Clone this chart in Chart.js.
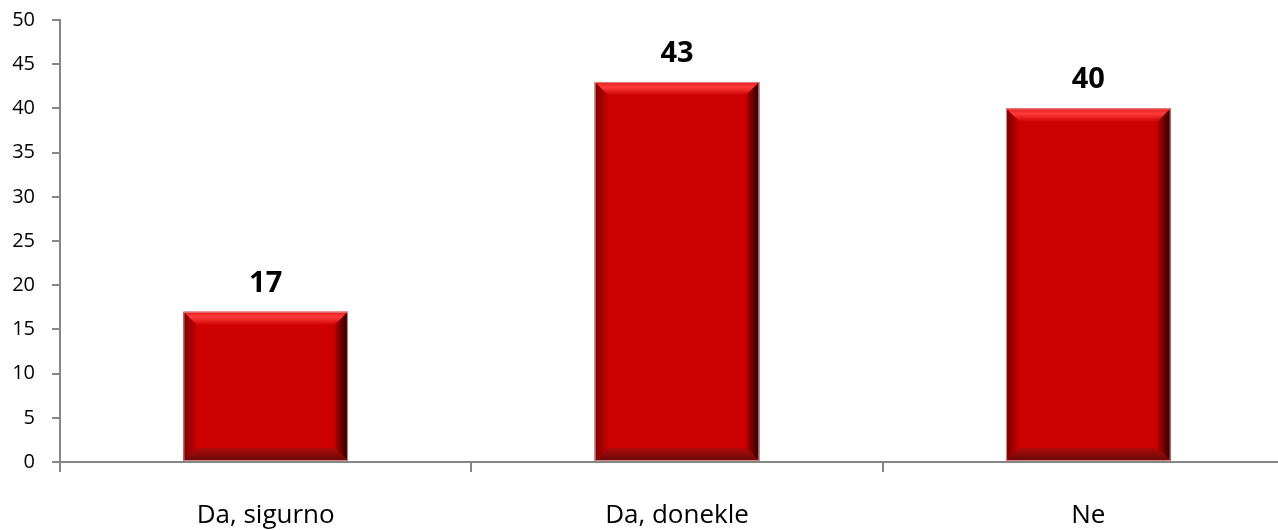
<!DOCTYPE html>
<html>
<head>
<meta charset="utf-8">
<script src="https://cdn.jsdelivr.net/npm/chart.js@4.4.0/dist/chart.umd.min.js"></script>
<style>
  html, body { margin: 0; padding: 0; background: #fff; overflow: hidden; }
  #wrap { width: 1294px; height: 530px; position: relative; }
</style>
</head>
<body>
<div id="wrap"><canvas id="myChart"></canvas></div>
<script>
const categories = ['Da, sigurno', 'Da, donekle', 'Ne'];
const values = [17, 43, 40];
const yTicks = [0, 5, 10, 15, 20, 25, 30, 35, 40, 45, 50];

const axisGrey = '#868686';

// Excel-tyylinen viisto reunus palkkeihin
const bevelPlugin = {
  id: 'bevel',
  afterDatasetsDraw(chart) {
    const ctx = chart.ctx;
    const meta = chart.getDatasetMeta(0);
    const b = 13;
    meta.data.forEach(bar => {
      const l = bar.x - bar.width / 2;
      const r = bar.x + bar.width / 2;
      const t = bar.y;
      const btm = bar.base;
      ctx.save();

      // yläreuna
      let g = ctx.createLinearGradient(0, t, 0, t + b);
      g.addColorStop(0, '#e41a1a');
      g.addColorStop(0.4, '#ff3b3b');
      g.addColorStop(1, '#d00404');
      ctx.fillStyle = g;
      ctx.beginPath();
      ctx.moveTo(l, t); ctx.lineTo(r, t); ctx.lineTo(r - b, t + b); ctx.lineTo(l + b, t + b);
      ctx.closePath(); ctx.fill();

      // vasen reuna
      g = ctx.createLinearGradient(l, 0, l + b, 0);
      g.addColorStop(0, '#780000');
      g.addColorStop(1, '#c40000');
      ctx.fillStyle = g;
      ctx.beginPath();
      ctx.moveTo(l, t); ctx.lineTo(l + b, t + b); ctx.lineTo(l + b, btm - b); ctx.lineTo(l, btm);
      ctx.closePath(); ctx.fill();

      // oikea reuna
      g = ctx.createLinearGradient(r - b, 0, r, 0);
      g.addColorStop(0, '#b00000');
      g.addColorStop(1, '#2a0000');
      ctx.fillStyle = g;
      ctx.beginPath();
      ctx.moveTo(r, t); ctx.lineTo(r - b, t + b); ctx.lineTo(r - b, btm - b); ctx.lineTo(r, btm);
      ctx.closePath(); ctx.fill();

      // alareuna
      g = ctx.createLinearGradient(0, btm - b, 0, btm);
      g.addColorStop(0, '#b00808');
      g.addColorStop(1, '#680a0a');
      ctx.fillStyle = g;
      ctx.beginPath();
      ctx.moveTo(l, btm); ctx.lineTo(l + b, btm - b); ctx.lineTo(r - b, btm - b); ctx.lineTo(r, btm);
      ctx.closePath(); ctx.fill();

      // ohut vaalea ääriviiva
      ctx.strokeStyle = 'rgba(220, 150, 150, 0.9)';
      ctx.lineWidth = 1;
      ctx.strokeRect(l + 0.5, t + 0.5, bar.width - 1, btm - t - 1);
      ctx.restore();
    });
  }
};

// Arvot palkkien yläpuolelle
const valueLabels = {
  id: 'valueLabels',
  afterDatasetsDraw(chart) {
    const ctx = chart.ctx;
    const meta = chart.getDatasetMeta(0);
    ctx.save();
    ctx.font = 'bold 29px "Open Sans"';
    ctx.fillStyle = '#000';
    ctx.textAlign = 'center';
    ctx.textBaseline = 'alphabetic';
    meta.data.forEach((bar, i) => {
      ctx.fillText(String(values[i]), bar.x, bar.y - 20);
    });
    ctx.restore();
  }
};

const config = {
  type: 'bar',
  data: {
    labels: categories,
    datasets: [{
      data: values,
      backgroundColor: '#cc0000',
      borderWidth: 0,
      categoryPercentage: 1,
      barPercentage: 0.4
    }]
  },
  options: {
    responsive: true,
    maintainAspectRatio: false,
    animation: false,
    layout: {
      padding: { top: 20, left: 0, right: 0, bottom: 0 }
    },
    plugins: {
      legend: { display: false },
      tooltip: { enabled: false }
    },
    scales: {
      y: {
        min: 0,
        max: 50,
        afterBuildTicks: s => { s.ticks = yTicks.map(v => ({ value: v })); },
        afterFit: s => { s.width = 60; s.paddingTop = 0; s.paddingBottom = 0; },
        ticks: {
          color: '#000',
          padding: 17,
          font: { family: 'Open Sans', size: 20 }
        },
        grid: {
          drawOnChartArea: false,
          tickLength: 8,
          color: axisGrey,
          lineWidth: 2
        },
        border: { color: axisGrey, width: 2 }
      },
      x: {
        afterFit: s => { s.height = 68; },
        ticks: {
          color: '#000',
          padding: 28,
          font: { family: 'Open Sans', size: 26 }
        },
        grid: {
          offset: true,
          drawOnChartArea: false,
          tickLength: 10,
          color: axisGrey,
          lineWidth: 2
        },
        border: { color: axisGrey, width: 2 }
      }
    }
  },
  plugins: [bevelPlugin, valueLabels]
};

const myChart = new Chart(document.getElementById('myChart'), config);
</script>
</body>
</html>
